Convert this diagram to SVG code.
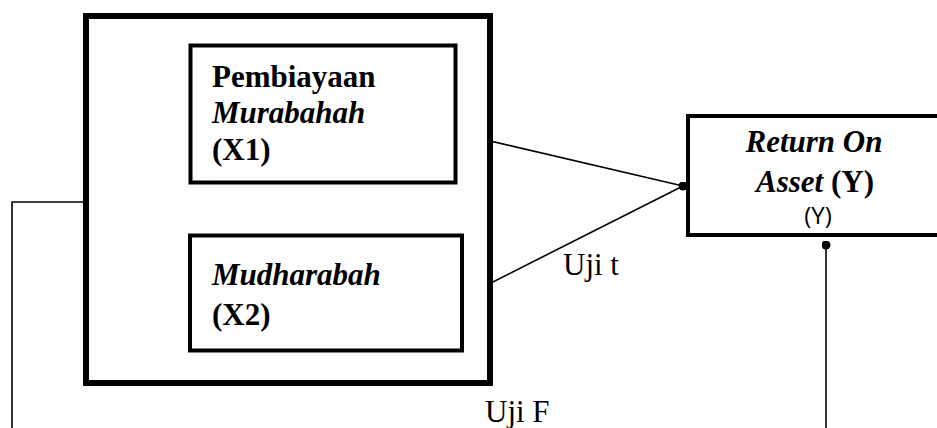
<svg xmlns="http://www.w3.org/2000/svg" width="937" height="428" viewBox="0 0 937 428">
<defs>
<style>
.box{fill:#fff;stroke:#000}
.t{font-family:"Liberation Serif","Times New Roman",serif;font-size:31px;fill:#000}
.b{font-weight:bold}
.i{font-style:italic}
.s{font-family:"Open Sans","Noto Sans",sans-serif;font-size:24px;fill:#000}
.c{fill:none;stroke:#000;stroke-width:1.6}
</style>
<marker id="dot" viewBox="0 0 10 10" refX="5" refY="5" markerWidth="9" markerHeight="9" markerUnits="userSpaceOnUse"><circle cx="5" cy="5" r="5" fill="#000"/></marker>
</defs>
<rect width="937" height="428" fill="#fff"/>
<g id="connectors">
<polyline class="c" points="84,202 12,202 12,428"/>
<line class="c" x1="456" y1="133" x2="683" y2="186" marker-end="url(#dot)"/>
<line class="c" x1="463" y1="297" x2="683" y2="186"/>
<line class="c" x1="826" y1="428" x2="826" y2="245" marker-end="url(#dot)"/>
<text class="t" x="563" y="275">Uji t</text>
<text class="t" x="485" y="422">Uji F</text>
</g>
<g id="group-x">
<rect class="box" x="86" y="16" width="404" height="367" stroke-width="6"/>
</g>
<g id="x1">
<rect class="box" x="190.5" y="45.5" width="265" height="137" stroke-width="4"/>
<text class="t b" x="212" y="87">Pembiayaan</text>
<text class="t b i" x="212" y="123">Murabahah</text>
<text class="t b" x="212" y="160">(X1)</text>
</g>
<g id="x2">
<rect class="box" x="190" y="235.5" width="272" height="115" stroke-width="4"/>
<text class="t b i" x="212" y="285">Mudharabah</text>
<text class="t b" x="212" y="325">(X2)</text>
</g>
<g id="y">
<rect class="box" x="688" y="116" width="260" height="119" stroke-width="4"/>
<text class="t b i" x="814" y="152" text-anchor="middle">Return On</text>
<text class="t b" x="815" y="192" text-anchor="middle"><tspan font-style="italic">Asset</tspan> (Y)</text>
<text class="s" x="818" y="224" text-anchor="middle">(Y)</text>
</g>
</svg>
